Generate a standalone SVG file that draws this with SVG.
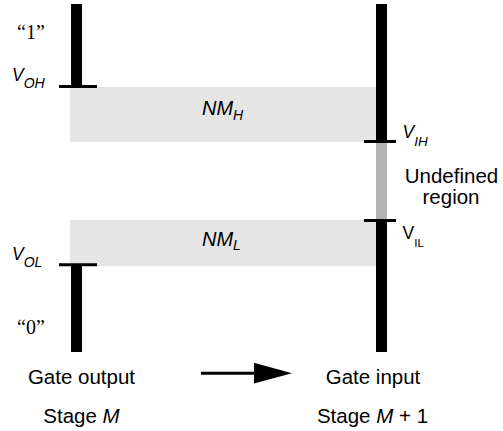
<svg xmlns="http://www.w3.org/2000/svg" width="503" height="431" viewBox="0 0 503 431">
<style>
.band{fill:#e5e5e5}
.bar{fill:#000}
.tick{stroke:#000;stroke-width:3}
.s{font-family:"Liberation Sans",Arial,sans-serif;fill:#000}
.it{font-style:italic}
.q{font-family:"Liberation Serif","Times New Roman",serif;font-size:20px;fill:#000}
</style>
<rect width="503" height="431" fill="#fff"/>
<g id="nm-high">
<rect class="band" x="70" y="87" width="306" height="55"/>
<text class="s it" x="202" y="115" font-size="20">NM<tspan font-size="14" dy="4.5">H</tspan></text>
</g>
<g id="nm-low">
<rect class="band" x="70" y="220" width="306" height="46"/>
<text class="s it" x="202" y="245.5" font-size="20">NM<tspan font-size="14" dy="4.5">L</tspan></text>
</g>
<g id="output-stage">
<rect class="bar" x="71" y="4" width="11" height="82"/>
<rect class="bar" x="71" y="265" width="11" height="87"/>
<line class="tick" x1="59" y1="86.5" x2="97" y2="86.5"/>
<line class="tick" x1="59" y1="264.7" x2="97" y2="264.7"/>
<text class="q" x="17" y="39">“1”</text>
<text class="q" x="17" y="334">“0”</text>
<text class="s it" x="12" y="80.5" font-size="17.5">V<tspan font-size="14" dy="7.5">OH</tspan></text>
<text class="s it" x="12" y="260" font-size="17.5">V<tspan font-size="14" dy="7">OL</tspan></text>
<text class="s" x="81.5" y="384" font-size="20.5" text-anchor="middle">Gate output</text>
<text class="s" x="81.5" y="422.5" font-size="20.5" text-anchor="middle">Stage <tspan class="it">M</tspan></text>
</g>
<g id="input-stage">
<rect class="bar" x="376" y="4" width="11" height="138"/>
<rect fill="#b3b3b3" x="376" y="142" width="11" height="78"/>
<rect class="bar" x="376" y="220" width="11" height="132"/>
<line class="tick" x1="364" y1="141.5" x2="396" y2="141.5"/>
<line class="tick" x1="364" y1="220.5" x2="396" y2="220.5"/>
<text class="s it" x="402.5" y="138.3" font-size="17.5">V<tspan font-size="13.5" dy="7.5">IH</tspan></text>
<text class="s" x="402.5" y="239.3" font-size="17.5">V<tspan font-size="11.5" dy="7.4">IL</tspan></text>
<text class="s" x="451.5" y="182.5" font-size="20.5" text-anchor="middle">Undefined</text>
<text class="s" x="451" y="204" font-size="20.5" text-anchor="middle">region</text>
<text class="s" x="373" y="384" font-size="20.5" text-anchor="middle">Gate input</text>
<text class="s" x="372.5" y="422.5" font-size="20.5" text-anchor="middle">Stage <tspan class="it">M</tspan> + 1</text>
</g>
<g id="connectors">
<line x1="201" y1="373.3" x2="256" y2="373.3" stroke="#000" stroke-width="3"/>
<polygon points="254,362.7 292,373.3 254,383.5" fill="#000"/>
</g>
</svg>
